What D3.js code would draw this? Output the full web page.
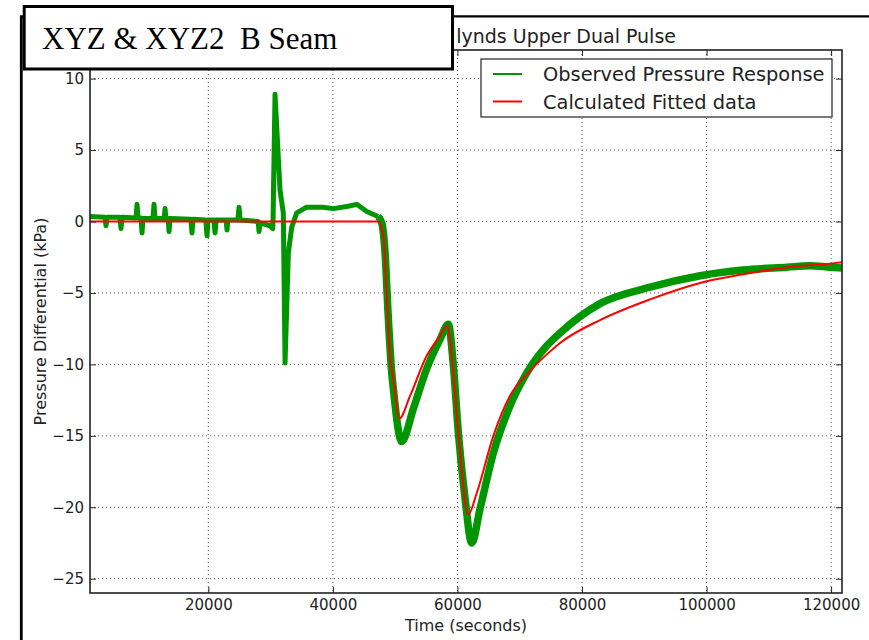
<!DOCTYPE html>
<html>
<head>
<meta charset="utf-8">
<script src="https://cdn.jsdelivr.net/npm/d3@7/dist/d3.min.js"></script>
<style>
  body { margin: 0; background: #fff; }
  text { font-family: "DejaVu Sans", sans-serif; fill: #222; }
</style>
</head>
<body>
<div id="chart"></div>
<script>
var obsTime = [1000, 3400, 3570, 3740, 5800, 5980, 6150, 8400, 8550, 8700, 9200, 9350, 9500,
  11100, 11280, 11450, 12900, 13050, 13200, 13550, 13690, 13850, 17200, 17380, 17550,
  19600, 19790, 19950, 20900, 21080, 21250, 22850, 23000, 23150, 24750, 24930, 25100,
  28000, 28140, 28300, 29900, 30340,
  30390, 30710, 31510, 32040, 32320, 32850, 33390, 34200, 35800, 38420, 40030, 42230, 43830, 45440,
  47250, 47850, 48380, 48860, 49450, 49660, 51060, 52920, 55070, 57210, 58540, 59350, 60150,
  61230, 62300, 63630, 65770, 68450, 71130, 74350, 76480, 82900, 90940, 98970, 105870,
  112940, 116630, 119840, 121770]
var obsValue = [0.35, 0.3, -0.3, 0.3, 0.3, -0.5, 0.3, 0.25, 1.2, 0.25, 0.25, -0.8, 0.2,
  0.2, 1.2, 0.2, 0.2, 0.9, 0.2, 0.2, -0.7, 0.2, 0.15, -0.8, 0.15,
  0.1, -1.0, 0.1, 0.1, -0.8, 0.1, 0.1, -0.6, 0.1, 0.1, 1.0, 0.1,
  0.0, -0.7, -0.1, -0.3, -0.5,
  0.0, 8.9, 2.2, 0.6, -9.9, -2.2, -0.4, 0.6, 1.0, 1.0, 0.9, 1.05, 1.2, 0.7,
  0.35, -0.1, -2.2, -6.4, -10.6, -11.5, -15.4, -13.1, -10.3, -8.25, -7.2, -10.1, -14.8,
  -19.4, -22.5, -20.1, -16.2, -12.9, -10.6, -8.7, -7.8, -5.75, -4.6, -3.8, -3.4,
  -3.2, -3.1, -3.2, -3.25]

var fitTime = [1000, 47300, 48100, 48650, 49180, 49710, 50670, 52390, 55070, 57210, 58380, 59090,
  60150, 61750, 63100, 65770, 68450, 71130, 74350, 76480, 82900, 90940, 98970, 105870,
  112940, 119840, 121770]
var fitValue = [0, 0, -1.0, -5.2, -9.4, -11.0, -13.8, -12.2, -9.4, -8.0, -7.3, -9.4,
  -14.8, -20.5, -19.0, -15.0, -12.2, -10.7, -9.3, -8.5, -6.9, -5.45, -4.3, -3.7,
  -3.2, -2.95, -2.85]

var xTicks = [20000, 40000, 60000, 80000, 100000, 120000]
var yTicks = [10, 5, 0, -5, -10, -15, -20, -25]
var seriesNames = ["Observed Pressure Response", "Calculated Fitted data"]
var seriesColors = ["#009600", "#ff0000"]

var W = 869, H = 640
var m = {left: 90, right: 842, top: 50, bottom: 593}

var svg = d3.select("#chart").append("svg").attr("width", W).attr("height", H)

var x = d3.scaleLinear().domain([1000, 121750]).range([m.left, m.right])
var y = d3.scaleLinear().domain([-26, 12]).range([m.bottom, m.top])

svg.append("clipPath").attr("id", "clip").append("rect")
  .attr("x", m.left).attr("y", m.top).attr("width", m.right - m.left).attr("height", m.bottom - m.top)
// the caption box covers the start of the plot title
svg.append("clipPath").attr("id", "titleclip").append("rect")
  .attr("x", 454).attr("y", 0).attr("width", W - 454).attr("height", 50)

// grid
var grid = svg.append("g")
grid.selectAll(".gx").data(xTicks).enter().append("line")
  .attr("x1", d => x(d)).attr("x2", d => x(d)).attr("y1", m.top).attr("y2", m.bottom)
  .attr("stroke", "#555").attr("stroke-width", 1).attr("stroke-dasharray", "1,3")
grid.selectAll(".gy").data(yTicks).enter().append("line")
  .attr("y1", d => y(d)).attr("y2", d => y(d)).attr("x1", m.left).attr("x2", m.right)
  .attr("stroke", "#555").attr("stroke-width", 1).attr("stroke-dasharray", "1,3")

var obs = obsTime.map((t, i) => [t, obsValue[i]])
var fit = fitTime.map((t, i) => [t, fitValue[i]])

var lineObs = d3.line().x(d => x(d[0])).y(d => y(d[1]))
var lineFit = d3.line().x(d => x(d[0])).y(d => y(d[1])).curve(d3.curveMonotoneX)

var plot = svg.append("g").attr("clip-path", "url(#clip)")
plot.append("path").datum(obs.filter(d => d[0] <= 47300))
  .attr("d", lineObs).attr("fill", "none").attr("stroke", seriesColors[0])
  .attr("stroke-width", 5).attr("stroke-linejoin", "round")
plot.append("path").datum(obs.filter(d => d[0] >= 47250))
  .attr("d", lineObs.curve(d3.curveMonotoneX)).attr("fill", "none").attr("stroke", seriesColors[0])
  .attr("stroke-width", 7.5).attr("stroke-linejoin", "round")
plot.append("path").datum(fit)
  .attr("d", lineFit).attr("fill", "none").attr("stroke", seriesColors[1]).attr("stroke-width", 2)

// axes, ticks pointing inward on all four sides
var axB = svg.append("g").attr("transform", "translate(0," + m.bottom + ")")
  .call(d3.axisBottom(x).tickValues(xTicks).tickSizeInner(-6).tickSizeOuter(0).tickPadding(6).tickFormat(d3.format("d")))
var axT = svg.append("g").attr("transform", "translate(0," + m.top + ")")
  .call(d3.axisTop(x).tickValues(xTicks).tickSizeInner(-6).tickSizeOuter(0).tickFormat(""))
var axL = svg.append("g").attr("transform", "translate(" + m.left + ",0)")
  .call(d3.axisLeft(y).tickValues(yTicks).tickSizeInner(-6).tickSizeOuter(0).tickPadding(6).tickFormat(d => d < 0 ? "\u2212" + Math.abs(d) : d))
var axR = svg.append("g").attr("transform", "translate(" + m.right + ",0)")
  .call(d3.axisRight(y).tickValues(yTicks).tickSizeInner(-6).tickSizeOuter(0).tickFormat(""))
;[axB, axT, axL, axR].forEach(function(a) {
  a.select(".domain").remove()
  a.selectAll("line").attr("stroke", "#222").attr("stroke-width", 1)
  a.selectAll("text").attr("font-family", "DejaVu Sans").attr("font-size", 15).attr("fill", "#222")
})

svg.append("rect").attr("x", m.left).attr("y", m.top).attr("width", m.right - m.left).attr("height", m.bottom - m.top)
  .attr("fill", "none").attr("stroke", "#222").attr("stroke-width", 1.6)

svg.append("text").attr("x", (m.left + m.right) / 2).attr("y", 631).attr("text-anchor", "middle")
  .attr("font-size", 16).text("Time (seconds)")
svg.append("text").attr("transform", "translate(46," + (m.top + m.bottom) / 2 + ") rotate(-90)")
  .attr("text-anchor", "middle").attr("font-size", 16).text("Pressure Differential (kPa)")

svg.append("text").attr("x", 676).attr("y", 43).attr("text-anchor", "end").attr("clip-path", "url(#titleclip)")
  .attr("font-size", 19).text("lynds Upper Dual Pulse")

// legend
var leg = svg.append("g").attr("transform", "translate(481,59)")
leg.append("rect").attr("width", 351).attr("height", 58).attr("fill", "#fff").attr("stroke", "#222").attr("stroke-width", 1.2)
var li = leg.selectAll(".li").data(seriesNames).enter().append("g")
  .attr("transform", (d, i) => "translate(0," + (15 + i * 27.5) + ")")
li.append("line").attr("x1", 12).attr("x2", 41).attr("stroke", (d, i) => seriesColors[i]).attr("stroke-width", 2)
li.append("text").attr("x", 62).attr("y", 7).attr("font-size", 19.4).text(d => d)

// outer frame and the pasted caption box
svg.append("line").attr("x1", 21.3).attr("x2", 21.3).attr("y1", 16).attr("y2", H).attr("stroke", "#000").attr("stroke-width", 2.8)
svg.append("line").attr("x1", 20).attr("x2", W).attr("y1", 16.3).attr("y2", 16.3).attr("stroke", "#000").attr("stroke-width", 2.2)
svg.append("rect").attr("x", 24.2).attr("y", 6.5).attr("width", 428.3).attr("height", 62.5)
  .attr("fill", "#fff").attr("stroke", "#000").attr("stroke-width", 3)
svg.append("text").attr("x", 42).attr("y", 49).attr("xml:space", "preserve").style("white-space", "pre")
  .style("font-family", "'Liberation Serif', serif").style("fill", "#000")
  .attr("font-size", 31).text("XYZ & XYZ2  B Seam")
</script>
</body>
</html>
